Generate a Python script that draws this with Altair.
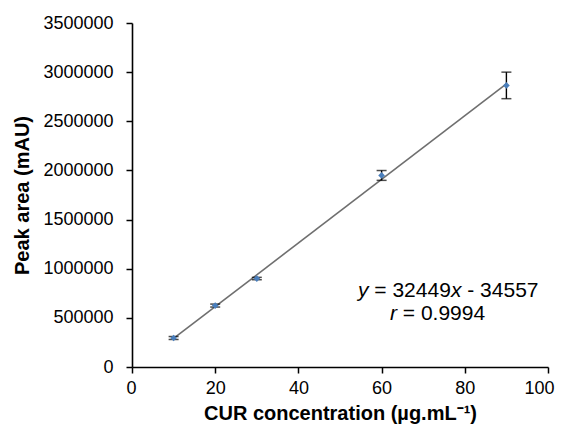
import altair as alt
import pandas as pd

# Calibration data
conc = [10, 20, 30, 60, 90]
peak_area = [295000, 625000, 900000, 1949000, 2865000]
sd = [15000, 15000, 12000, 50000, 135000]

x_ticks = [0, 20, 40, 60, 80, 100]
y_ticks = [0, 500000, 1000000, 1500000, 2000000, 2500000, 3000000, 3500000]

eq_slope = "32449"
eq_intercept = "34557"
r_value = "0.9994"

df = pd.DataFrame({"conc": conc, "area": peak_area, "sd": sd})
df["lo"] = df["area"] - df["sd"]
df["hi"] = df["area"] + df["sd"]

FONT = "Liberation Sans"

xscale = alt.Scale(domain=[0, 100], nice=False, zero=True)
yscale = alt.Scale(domain=[0, 3500000], nice=False)

xenc = alt.X("conc:Q", scale=xscale,
             axis=alt.Axis(values=x_ticks, title="CUR concentration (µg.mL⁻¹)", format="d",
                           labelFlush=True, labelFlushOffset=6))
yenc = alt.Y("area:Q", scale=yscale,
             axis=alt.Axis(values=y_ticks, title="Peak area (mAU)", format="d"))

base = alt.Chart(df)

fit = base.transform_regression("conc", "area", method="linear", extent=[10, 90]).mark_line(
    color="#6f6f6f", strokeWidth=1.6
).encode(x=xenc, y=yenc)

err = base.mark_rule(color="black", strokeWidth=1.4).encode(
    x="conc:Q", y="lo:Q", y2="hi:Q"
)
cap_lo = base.mark_tick(color="black", orient="horizontal", size=10, thickness=1.5).encode(
    x="conc:Q", y="lo:Q"
)
cap_hi = base.mark_tick(color="black", orient="horizontal", size=10, thickness=1.5).encode(
    x="conc:Q", y="hi:Q"
)

pts = base.mark_point(filled=True, shape="diamond", size=45, color="#4a7ebb", opacity=1).encode(
    x="conc:Q", y="area:Q"
)

# Equation annotation pieces (anchor in data coords)
ann = pd.DataFrame({
    "t": ["y", "= " + eq_slope, "x", "- " + eq_intercept, "r", "= " + r_value],
    "it": [True, False, True, False, True, False],
    "ax": [54.33, 58.25, 76.68, 80.60, 62.02, 65.10],
    "ay": [715000, 715000, 715000, 715000, 481000, 481000],
})

def text_layer(italic):
    return alt.Chart(ann).transform_filter(
        alt.datum.it == italic
    ).mark_text(
        align="left", baseline="alphabetic", font=FONT, fontSize=21,
        fontStyle="italic" if italic else "normal", color="black"
    ).encode(
        x=alt.X("ax:Q", scale=xscale), y=alt.Y("ay:Q", scale=yscale), text="t:N"
    )

chart = alt.layer(fit, err, cap_lo, cap_hi, pts, text_layer(True), text_layer(False)).properties(
    width=416, height=344,
    autosize=alt.AutoSizeParams(type="none"),
    padding={"left": 124, "top": 15, "right": 8, "bottom": 57},
    background="white",
).configure_view(stroke="transparent").configure_axis(
    grid=False,
    domainColor="black", domainWidth=1.6,
    tickColor="black", tickSize=6, tickWidth=1.5,
    labelFont=FONT, labelFontSize=18, labelColor="black",
    titleFont=FONT, titleFontSize=20, titleFontWeight="bold", titleColor="black",
).configure_axisX(labelPadding=6, titlePadding=6).configure_axisY(labelPadding=13, titlePadding=10)

chart.save("out.html", embed_options={"renderer": "svg", "actions": False})
